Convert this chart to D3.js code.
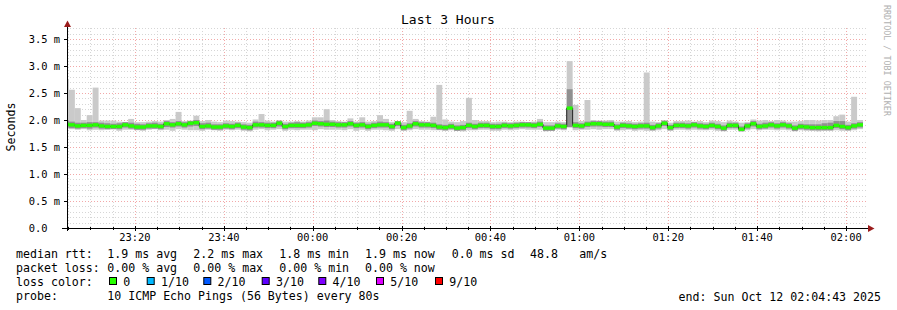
<!DOCTYPE html>
<html>
<head>
<meta charset="utf-8">
<script src="https://cdn.jsdelivr.net/npm/d3@7.9.0/dist/d3.min.js"></script>
<style>
  body { margin: 0; background: #fff; }
  svg text { font-family: "DejaVu Sans Mono", monospace; white-space: pre; }
</style>
</head>
<body>
<svg id="chart" width="897" height="310"></svg>
<script>
// smokeping, last 3 hours, one step every 80 s (values in ms)
const median = [
  1.92,1.91,1.89,1.90,1.90,1.91,1.89,1.88,1.88,1.88,
  1.91,1.89,1.87,1.87,1.89,1.89,1.88,1.93,1.91,1.93,
  1.91,1.94,1.95,1.88,1.89,1.87,1.87,1.89,1.88,1.90,
  1.87,1.86,1.91,1.91,1.90,1.90,1.94,1.88,1.90,1.90,
  1.90,1.91,1.94,1.93,1.92,1.92,1.91,1.91,1.93,1.90,
  1.91,1.88,1.90,1.91,1.91,1.88,1.94,1.86,1.89,1.93,
  1.91,1.91,1.90,1.87,1.86,1.88,1.85,1.86,1.90,1.88,
  1.90,1.90,1.88,1.88,1.90,1.89,1.90,1.91,1.91,1.90,
  1.92,1.85,1.85,1.89,1.88,2.22,1.90,1.89,1.92,1.93,
  1.93,1.92,1.92,1.87,1.90,1.89,1.88,1.89,1.89,1.86,
  1.89,1.94,1.86,1.90,1.90,1.89,1.91,1.89,1.88,1.90,
  1.88,1.85,1.90,1.90,1.83,1.89,1.93,1.88,1.89,1.91,
  1.89,1.91,1.89,1.85,1.88,1.87,1.86,1.86,1.86,1.86,
  1.90,1.88,1.86,1.89,1.91
];
// slowest ping of each step
const pingMax = [
  2.75,2.56,2.22,2.00,2.09,2.60,1.99,1.99,1.99,1.97,
  1.96,2.02,1.96,1.96,1.97,1.98,1.97,2.00,2.02,2.15,
  1.98,1.99,2.08,1.98,2.00,1.97,1.96,1.99,1.98,1.97,
  1.96,1.95,2.01,2.11,1.99,1.97,1.98,1.97,1.97,1.98,
  1.97,1.99,2.05,2.05,2.20,2.00,1.98,1.97,2.03,1.97,
  2.05,1.97,1.98,2.09,2.02,1.96,1.98,1.96,2.17,2.02,
  1.98,1.97,2.06,2.65,2.01,1.97,1.96,1.98,2.41,2.00,
  1.98,1.98,1.96,1.97,1.97,1.96,1.97,1.97,1.96,1.97,
  2.02,1.96,1.96,1.97,1.96,3.09,2.28,1.98,2.37,2.00,
  1.99,1.99,2.00,1.97,1.97,1.98,1.96,1.97,2.88,1.97,
  1.96,1.98,1.95,1.98,1.98,1.99,1.97,1.98,1.96,1.99,
  1.98,1.96,1.99,1.97,1.95,1.96,2.01,1.99,2.00,1.98,
  2.00,1.99,1.97,1.97,1.98,2.00,2.00,1.99,2.00,2.00,
  2.07,2.10,1.97,2.43,2.00
];
// fastest ping of each step
const pingMin = [
  1.84,1.83,1.82,1.83,1.81,1.82,1.81,1.82,1.83,1.80,
  1.82,1.82,1.81,1.80,1.82,1.83,1.81,1.82,1.80,1.83,
  1.82,1.81,1.81,1.80,1.82,1.81,1.80,1.82,1.81,1.82,
  1.80,1.79,1.82,1.83,1.81,1.82,1.83,1.80,1.82,1.81,
  1.82,1.82,1.81,1.83,1.82,1.82,1.82,1.81,1.83,1.80,
  1.82,1.80,1.82,1.82,1.81,1.80,1.83,1.80,1.81,1.83,
  1.82,1.82,1.81,1.81,1.80,1.81,1.80,1.79,1.81,1.81,
  1.82,1.82,1.80,1.80,1.82,1.81,1.82,1.83,1.82,1.82,
  1.82,1.79,1.80,1.82,1.81,1.86,1.81,1.82,1.82,1.83,
  1.82,1.83,1.83,1.80,1.81,1.82,1.80,1.81,1.80,1.80,
  1.81,1.83,1.80,1.82,1.82,1.81,1.82,1.81,1.81,1.82,
  1.80,1.79,1.82,1.82,1.79,1.81,1.83,1.81,1.82,1.82,
  1.81,1.82,1.81,1.79,1.81,1.80,1.80,1.79,1.80,1.80,
  1.81,1.80,1.80,1.81,1.83
];
// inner smoke (middle pings)
const innerHigh = [
  1.99,1.97,1.95,1.95,1.96,1.96,1.95,1.94,1.93,1.94,
  1.96,1.95,1.93,1.92,1.94,1.95,1.93,1.98,1.96,1.98,
  1.96,1.98,2.00,1.94,1.95,1.92,1.92,1.94,1.93,1.95,
  1.92,1.91,1.97,1.96,1.95,1.95,1.99,1.93,1.95,1.96,
  1.95,1.96,1.99,1.98,1.99,1.97,1.96,1.96,1.98,1.95,
  1.96,1.93,1.95,1.97,1.96,1.93,1.98,1.91,1.94,1.98,
  1.96,1.96,1.95,1.92,1.91,1.93,1.90,1.91,1.95,1.93,
  1.95,1.95,1.93,1.93,1.95,1.94,1.95,1.96,1.96,1.95,
  1.97,1.90,1.90,1.94,1.93,2.57,1.96,1.94,1.97,1.98,
  1.98,1.97,1.97,1.92,1.95,1.94,1.93,1.94,1.95,1.91,
  1.94,1.99,1.91,1.95,1.95,1.94,1.96,1.94,1.93,1.95,
  1.93,1.90,1.95,1.95,1.88,1.94,1.98,1.93,1.95,1.96,
  1.94,1.96,1.94,1.90,1.93,1.92,1.92,1.92,1.94,1.95,
  1.98,1.98,1.91,1.94,1.96
];
const innerLow = [
  1.86,1.85,1.84,1.85,1.84,1.86,1.84,1.83,1.83,1.83,
  1.86,1.84,1.82,1.82,1.84,1.84,1.83,1.87,1.86,1.88,
  1.86,1.88,1.89,1.83,1.84,1.82,1.82,1.84,1.83,1.85,
  1.82,1.81,1.86,1.86,1.85,1.85,1.88,1.83,1.85,1.85,
  1.85,1.86,1.89,1.88,1.87,1.87,1.86,1.86,1.88,1.85,
  1.86,1.83,1.85,1.86,1.86,1.83,1.89,1.81,1.84,1.88,
  1.86,1.86,1.85,1.82,1.81,1.83,1.80,1.81,1.85,1.83,
  1.85,1.85,1.83,1.83,1.85,1.84,1.85,1.86,1.86,1.85,
  1.87,1.80,1.80,1.84,1.83,1.87,1.85,1.84,1.87,1.88,
  1.88,1.87,1.87,1.82,1.85,1.84,1.83,1.84,1.84,1.81,
  1.84,1.89,1.81,1.85,1.85,1.84,1.86,1.84,1.83,1.85,
  1.83,1.80,1.85,1.85,1.79,1.84,1.88,1.83,1.84,1.86,
  1.84,1.86,1.84,1.80,1.83,1.82,1.81,1.81,1.81,1.81,
  1.85,1.83,1.81,1.84,1.86
];

const yTicks = [0, 0.5, 1.0, 1.5, 2.0, 2.5, 3.0, 3.5];
const yTickLabels = ['0.0  ', '0.5 m', '1.0 m', '1.5 m', '2.0 m', '2.5 m', '3.0 m', '3.5 m'];
const lossLabels = ['0', '1/10', '2/10', '3/10', '4/10', '5/10', '9/10'];
const lossColors = ['#26ff00', '#00b8ff', '#0059ff', '#5e00ff', '#7e00ff', '#dd00ff', '#ff0000'];
const lossPct = 0;
const amPerSec = '48.8';

const startTime = new Date(2025, 9, 11, 23, 4, 43);
const endTime = new Date(2025, 9, 12, 2, 4, 43);
const firstStep = new Date(2025, 9, 11, 23, 3, 49);
const stepSec = 80;

const svg = d3.select('#chart');
svg.append('rect').attr('width', 897).attr('height', 310).attr('fill', '#fff');

const x = d3.scaleTime().domain([startTime, endTime]).range([67, 867]);
const y = d3.scaleLinear().domain([0, 200 / 54]).range([228, 28]);

const stepStart = median.map((_, i) => d3.timeSecond.offset(firstStep, i * stepSec));
const stepEnd = (i) => d3.timeSecond.offset(stepStart[i], stepSec);

svg.append('clipPath').attr('id', 'plotclip')
  .append('rect').attr('x', 67).attr('y', 28).attr('width', 800).attr('height', 200);

// grid
const grid = svg.append('g');
const minorY = d3.range(1, 38).map((d) => d / 10).filter((d) => Math.round(d * 10) % 5 !== 0);
grid.selectAll('.hmin').data(minorY).join('line')
  .attr('x1', 67).attr('x2', 867)
  .attr('y1', (d) => Math.round(y(d)) + 0.5).attr('y2', (d) => Math.round(y(d)) + 0.5)
  .attr('stroke', '#d6d6d6').attr('stroke-dasharray', '1,2');
const minorX = d3.timeMinute.every(5).range(startTime, endTime).filter((d) => d.getMinutes() % 20 !== 0);
grid.selectAll('.vmin').data(minorX).join('line')
  .attr('x1', (d) => Math.round(x(d)) + 0.5).attr('x2', (d) => Math.round(x(d)) + 0.5)
  .attr('y1', 28).attr('y2', 228)
  .attr('stroke', '#d6d6d6').attr('stroke-dasharray', '1,2');
grid.selectAll('.hmaj').data(yTicks.slice(1)).join('line')
  .attr('x1', 64).attr('x2', 867)
  .attr('y1', (d) => Math.round(y(d)) + 0.5).attr('y2', (d) => Math.round(y(d)) + 0.5)
  .attr('stroke', '#f2a8a8').attr('stroke-dasharray', '1,2');
const majorX = d3.timeMinute.every(20).range(startTime, endTime);
grid.selectAll('.vmaj').data(majorX).join('line')
  .attr('x1', (d) => Math.round(x(d)) + 0.5).attr('x2', (d) => Math.round(x(d)) + 0.5)
  .attr('y1', 28).attr('y2', 231)
  .attr('stroke', '#f2a8a8').attr('stroke-dasharray', '1,2');

// smoke + median
const plot = svg.append('g').attr('clip-path', 'url(#plotclip)');
const band = (lo, hi, color) => {
  plot.append('g').selectAll('rect').data(median).join('rect')
    .attr('x', (_, i) => x(stepStart[i]))
    .attr('width', (_, i) => x(stepEnd(i)) - x(stepStart[i]))
    .attr('y', (_, i) => y(hi[i]))
    .attr('height', (_, i) => y(lo[i]) - y(hi[i]))
    .attr('fill', color);
};
band(pingMin, pingMax, '#cacaca');
band(innerLow, innerHigh, '#909090');

const linePts = median.map((v, i) => [stepStart[i], v]);
linePts.push([stepEnd(median.length - 1), median[median.length - 1]]);
plot.append('path')
  .attr('d', d3.line().x((d) => x(d[0])).y((d) => y(d[1])).curve(d3.curveStepAfter)(linePts))
  .attr('fill', 'none').attr('stroke', '#202020').attr('stroke-width', 1);

plot.append('g').selectAll('rect').data(median).join('rect')
  .attr('x', (_, i) => x(stepStart[i]))
  .attr('width', (_, i) => x(stepEnd(i)) - x(stepStart[i]))
  .attr('y', (d) => y(d) - 1.7)
  .attr('height', 3.4)
  .attr('fill', lossColors[0]);

// axes
const axis = svg.append('g');
axis.append('line').attr('x1', 62).attr('x2', 869).attr('y1', 228.5).attr('y2', 228.5).attr('stroke', '#000');
axis.append('line').attr('x1', 67.5).attr('x2', 67.5).attr('y1', 231).attr('y2', 25).attr('stroke', '#000');
axis.append('path').attr('d', 'M64,27L67.5,20.5L71,27Z').attr('fill', '#9b1c1c');
axis.append('path').attr('d', 'M868,225L874.5,228.5L868,232Z').attr('fill', '#9b1c1c');
axis.selectAll('.yt').data(yTicks.slice(1)).join('line')
  .attr('x1', 64).attr('x2', 67)
  .attr('y1', (d) => Math.round(y(d)) + 0.5).attr('y2', (d) => Math.round(y(d)) + 0.5)
  .attr('stroke', '#000');
axis.selectAll('.xt').data(majorX).join('line')
  .attr('x1', (d) => Math.round(x(d)) + 0.5).attr('x2', (d) => Math.round(x(d)) + 0.5)
  .attr('y1', 226).attr('y2', 231).attr('stroke', '#000');
axis.selectAll('.xm').data(minorX).join('line')
  .attr('x1', (d) => Math.round(x(d)) + 0.5).attr('x2', (d) => Math.round(x(d)) + 0.5)
  .attr('y1', 227).attr('y2', 230).attr('stroke', '#000');

axis.selectAll('.yl').data(yTicks).join('text')
  .attr('x', 60).attr('y', (d) => y(d)).attr('dy', '0.36em')
  .attr('text-anchor', 'end').attr('font-size', '10.4px').attr('fill', '#000')
  .text((d, i) => yTickLabels[i]);
axis.selectAll('.xl').data(majorX).join('text')
  .attr('x', (d) => x(d)).attr('y', 241)
  .attr('text-anchor', 'middle').attr('font-size', '10.4px').attr('fill', '#000')
  .text(d3.timeFormat('%H:%M'));

svg.append('text').attr('x', 448).attr('y', 24).attr('text-anchor', 'middle')
  .attr('font-size', '13px').text('Last 3 Hours');
svg.append('text').attr('transform', 'translate(15,127) rotate(-90)').attr('text-anchor', 'middle')
  .attr('font-size', '11.6px').text('Seconds');
svg.append('text').attr('transform', 'translate(884,5) rotate(90)')
  .attr('font-size', '8.4px').attr('fill', '#b0b0b0').text('RRDTOOL / TOBI OETIKER');

// legend
const fmt1 = d3.format('.1f');
const fmt2 = d3.format('.2f');
const leg = svg.append('g').attr('font-size', '11.6px').attr('fill', '#000');
const put = (xx, yy, s) => leg.append('text').attr('x', xx).attr('y', yy).text(s);
const statX = [107.3, 193.3, 279.3, 365];
const stats = [
  ['avg', d3.mean(median)], ['max', d3.max(median)],
  ['min', d3.min(median)], ['now', median[median.length - 1]]
];
put(16, 258, 'median rtt:');
stats.forEach(([k, v], i) => put(statX[i], 258, `${fmt1(v)} ms ${k}`));
put(451.7, 258, `${fmt1(d3.deviation(median) || 0).replace('-', '')} ms sd`);
put(530, 258, amPerSec);
put(579.3, 258, 'am/s');

put(16, 272, 'packet loss:');
stats.forEach(([k], i) => put(statX[i], 272, `${fmt2(lossPct)} % ${k}`));

put(16, 286, 'loss color:');
const boxX = [109, 146.7, 203.3, 261.7, 318.3, 376, 435];
lossLabels.forEach((l, i) => {
  leg.append('rect').attr('x', boxX[i] + 0.5).attr('y', 277.5).attr('width', 7).attr('height', 7)
    .attr('fill', lossColors[i]).attr('stroke', '#000');
  put(boxX[i] + 14.3, 286, l);
});

put(16, 300, 'probe:');
put(107.3, 300, '10 ICMP Echo Pings (56 Bytes) every 80s');
leg.append('text').attr('x', 881).attr('y', 301).attr('text-anchor', 'end')
  .text('end: ' + d3.timeFormat('%a %b %d %H:%M:%S %Y')(endTime));
</script>
</body>
</html>
